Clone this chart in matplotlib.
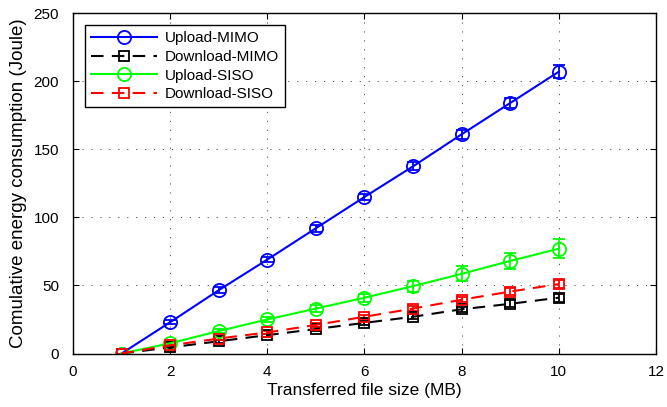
import matplotlib
matplotlib.use("Agg")
import matplotlib.pyplot as plt
from matplotlib.lines import Line2D
import numpy as np

# File sizes (MB)
file_size = [1, 2, 3, 4, 5, 6, 7, 8, 9, 10]

# Cumulative energy (Joule) and error bar half-widths
upload_mimo = [0, 23, 46.5, 69, 92, 115, 137.5, 161, 184, 207]
upload_mimo_err = [0, 1.5, 2, 2, 2.5, 2.5, 3, 3.5, 4, 5]

download_mimo = [0, 4.5, 9, 13.5, 18, 22.5, 27, 32.5, 36.5, 41]
download_mimo_err = [0, 0.5, 1, 1, 1.5, 1.5, 2, 2, 2.5, 3]

upload_siso = [0, 7.5, 16.5, 25, 33, 41, 49.5, 58.5, 68, 77]
upload_siso_err = [0, 1, 1.5, 2, 2.5, 3, 4, 5.5, 6, 7]

download_siso = [0, 6, 11, 15.5, 21, 27, 33, 39.5, 45.5, 51]
download_siso_err = [0, 0.5, 1, 1, 1.5, 1.5, 2, 2, 2.5, 3]

series = [
    ("Upload-MIMO", upload_mimo, upload_mimo_err, "#0000ff", "-", "o", 9.5),
    ("Download-MIMO", download_mimo, download_mimo_err, "#000000", "--", "s", 7.5),
    ("Upload-SISO", upload_siso, upload_siso_err, "#00ff00", "-", "o", 9.5),
    ("Download-SISO", download_siso, download_siso_err, "#ff0000", "--", "s", 7.5),
]

plt.rcParams["font.family"] = ["Liberation Sans", "DejaVu Sans"]

fig = plt.figure(figsize=(6.67, 4.07), dpi=100)
ax = fig.add_axes([0.1094, 0.1314, 0.8741, 0.8363])

handles = []
for label, y, err, color, ls, mk, ms in series:
    style = dict(color=color, linewidth=1.5, marker=mk, markersize=ms,
                 markerfacecolor="none", markeredgecolor=color,
                 markeredgewidth=1.3)
    ax.errorbar(file_size, y, yerr=err, linestyle=ls, capsize=4,
                elinewidth=1.3, capthick=1.3, **style)
    h = Line2D([], [], linestyle=ls, **style)
    if ls == "--":
        h.set_dashes((6, 4))
    handles.append(h)

# dashed series use a MATLAB-like dash length
for line in ax.get_lines():
    if line.get_linestyle() == "--":
        line.set_dashes((6, 4))

ax.set_xlim(0, 12)
ax.set_ylim(0, 250)
ax.set_xticks(np.arange(0, 13, 2))
ax.set_yticks(np.arange(0, 251, 50))
ax.tick_params(direction="in", length=4, width=0.8, labelsize=11,
               top=True, right=True)
ax.tick_params(axis="x", pad=8)
ax.tick_params(axis="y", pad=10)
ax.grid(True, linestyle=(0, (1.2, 8)), color="#505050", linewidth=0.7)
for sp in ax.spines.values():
    sp.set_linewidth(1.0)

ax.set_xlabel("Transferred file size (MB)", fontsize=12.5, labelpad=3)
ax.set_ylabel("Comulative energy consumption (Joule)", fontsize=13.5, labelpad=5)

leg = ax.legend(handles, [s[0] for s in series], loc="upper left",
                fontsize=11, frameon=True, fancybox=False,
                edgecolor="black", framealpha=1, handlelength=4.3,
                labelspacing=0.3, borderaxespad=0.8, borderpad=0.4,
                handletextpad=0.5)
leg.get_frame().set_linewidth(1.0)

fig.savefig("out.png", dpi=100)
